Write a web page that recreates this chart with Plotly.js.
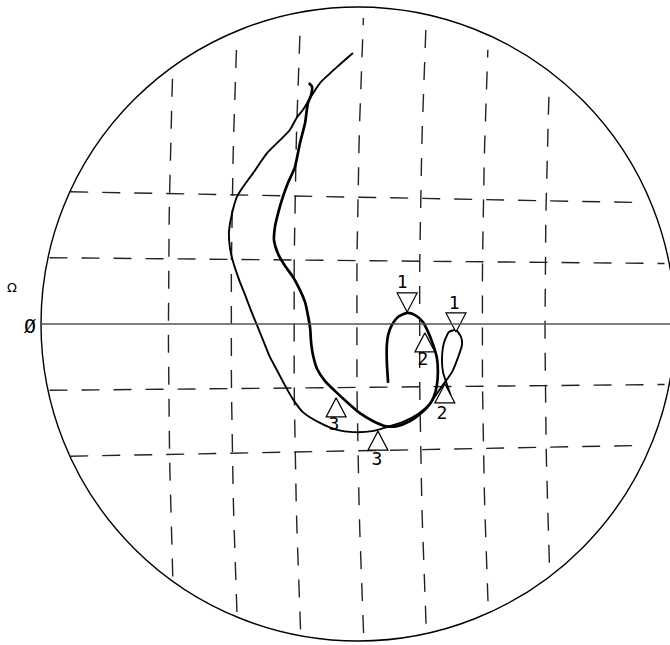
<!DOCTYPE html>
<html>
<head>
<meta charset="utf-8">
<script src="https://cdn.plot.ly/plotly-3.0.1.min.js"></script>
<style>html,body{margin:0;padding:0;background:#fff;}#chart{width:670px;height:645px;}</style>
</head>
<body>
<div id="chart"></div>
<script>
// Normalised reflection-coefficient plane (unit circle = chart boundary)
// Trace 1 (outer sweep, ends in the small loop)
const trace1U = [-0.016,-0.066,-0.120,-0.151,-0.174,-0.192,-0.215,-0.246,-0.287,-0.331,-0.363,-0.382,-0.397,-0.407,-0.404,-0.394,-0.375,-0.356,-0.338,-0.319,-0.297,-0.278,-0.256,-0.233,-0.208,-0.174,-0.120,-0.066,-0.016,0.044,0.091,0.142,0.189,0.227,0.246,0.268,0.297,0.315,0.328,0.325,0.309,0.287,0.271,0.265,0.268,0.281,0.293];
const trace1V = [0.855,0.811,0.760,0.713,0.675,0.653,0.612,0.580,0.539,0.476,0.432,0.401,0.350,0.290,0.240,0.196,0.139,0.091,0.044,-0.003,-0.057,-0.104,-0.145,-0.189,-0.233,-0.278,-0.312,-0.334,-0.341,-0.338,-0.325,-0.309,-0.284,-0.252,-0.224,-0.192,-0.151,-0.107,-0.066,-0.041,-0.019,-0.025,-0.060,-0.107,-0.151,-0.192,-0.227];
// Trace 2 (inner sweep, ends in the large loop)
const trace2U = [-0.155,-0.145,-0.148,-0.158,-0.167,-0.183,-0.199,-0.221,-0.237,-0.252,-0.262,-0.265,-0.252,-0.230,-0.205,-0.183,-0.167,-0.158,-0.151,-0.148,-0.142,-0.129,-0.104,-0.073,-0.035,0.006,0.047,0.085,0.123,0.164,0.202,0.227,0.240,0.249,0.252,0.249,0.237,0.221,0.205,0.180,0.155,0.126,0.107,0.095,0.091,0.091,0.095];
const trace2V = [0.760,0.748,0.722,0.697,0.634,0.571,0.495,0.445,0.401,0.350,0.306,0.265,0.221,0.183,0.148,0.107,0.069,0.028,-0.013,-0.057,-0.098,-0.142,-0.180,-0.211,-0.246,-0.281,-0.306,-0.322,-0.322,-0.306,-0.278,-0.252,-0.227,-0.192,-0.151,-0.107,-0.066,-0.025,0.006,0.028,0.035,0.022,-0.003,-0.035,-0.066,-0.120,-0.186];
// Frequency markers (point on the trace where the marker tip sits)
const markerLabels = ["1","1","2","2","3","3"];
const markerDir = ["down","down","up","up","up","up"];
const markerU = [0.155,0.309,0.211,0.274,-0.069,0.063];
const markerV = [0.038,-0.025,-0.028,-0.189,-0.233,-0.338];
const labelU = [0.139,0.303,0.205,0.265,-0.076,0.060];
const labelV = [0.129,0.060,-0.114,-0.284,-0.319,-0.432];
// Graticule
const gridU = [-0.6,-0.4,-0.2,0,0.2,0.4,0.6];
const gridV = [-0.4,-0.2,0.2,0.4];

const PX = 1/317;           // one pixel in plane units
// slight scan distortion of the graticule
function warp(u, v){ return [0.99*u - 0.004 + 0.0227*v*v, v - 0.047*u*v]; }

const gx = [], gy = [];
gridU.forEach(u => {
  const h = Math.sqrt(1 - u*u);
  const top = h - 0.035, bot = -(h - 0.025);
  for (let i = 0; i <= 24; i++) {
    const v = bot + (top - bot) * i / 24;
    const p = warp(u, v); gx.push(p[0]); gy.push(p[1]);
  }
  gx.push(null); gy.push(null);
});
gridV.forEach(v => {
  const h = Math.sqrt(1 - v*v);
  for (let i = 0; i <= 24; i++) {
    const u = -h + 2*h*i/24;
    const p = warp(u, v); gx.push(p[0]); gy.push(p[1]);
  }
  gx.push(null); gy.push(null);
});

// open triangles whose tip touches the trace
const halfW = 10*PX, triH = 19*PX;
const tx = [], ty = [];
markerU.forEach((u, i) => {
  const v = markerV[i];
  const s = markerDir[i] === 'down' ? 1 : -1;
  tx.push(u, u - halfW, u + halfW, u, null);
  ty.push(v, v + s*triH, v + s*triH, v, null);
});

const data = [
  {x: gx, y: gy, mode: 'lines', line: {color: '#222', width: 1.4, dash: '18px,14px'}, hoverinfo: 'skip'},
  {x: trace1U, y: trace1V, mode: 'lines', line: {color: '#000', width: 1.9, shape: 'spline', smoothing: 0.6}},
  {x: trace2U, y: trace2V, mode: 'lines', line: {color: '#000', width: 2.7, shape: 'spline', smoothing: 0.6}},
  {x: tx, y: ty, mode: 'lines', fill: 'toself', fillcolor: '#fff', line: {color: '#000', width: 1.2}},
  {x: labelU, y: labelV, mode: 'text', text: markerLabels, textposition: 'middle center',
   textfont: {family: 'DejaVu Sans Mono', size: 18, color: '#000'}}
];

const layout = {
  width: 670, height: 645,
  margin: {l: 0, r: 0, t: 0, b: 0},
  paper_bgcolor: '#fff', plot_bgcolor: '#fff',
  showlegend: false,
  xaxis: {range: [-358/317, 312/317], visible: false, fixedrange: true},
  yaxis: {range: [-321/317, 324/317], visible: false, fixedrange: true},
  shapes: [
    {type: 'circle', xref: 'x', yref: 'y', x0: -1, x1: 1, y0: -1, y1: 1, line: {color: '#000', width: 1.4}},
    {type: 'line', xref: 'x', yref: 'y', x0: -1, x1: 312/317, y0: 0, y1: 0, line: {color: '#555', width: 1.5}}
  ],
  annotations: [
    {x: -1.091, y: 0.114, xref: 'x', yref: 'y', text: 'Ω', showarrow: false, font: {family: 'DejaVu Sans', size: 13, color: '#000'}},
    {x: -1.035, y: -0.006, xref: 'x', yref: 'y', text: 'Ø', showarrow: false, font: {family: 'DejaVu Sans Mono', size: 20, color: '#000'}}
  ]
};

Plotly.newPlot('chart', data, layout, {displayModeBar: false, staticPlot: true});
</script>
</body>
</html>
